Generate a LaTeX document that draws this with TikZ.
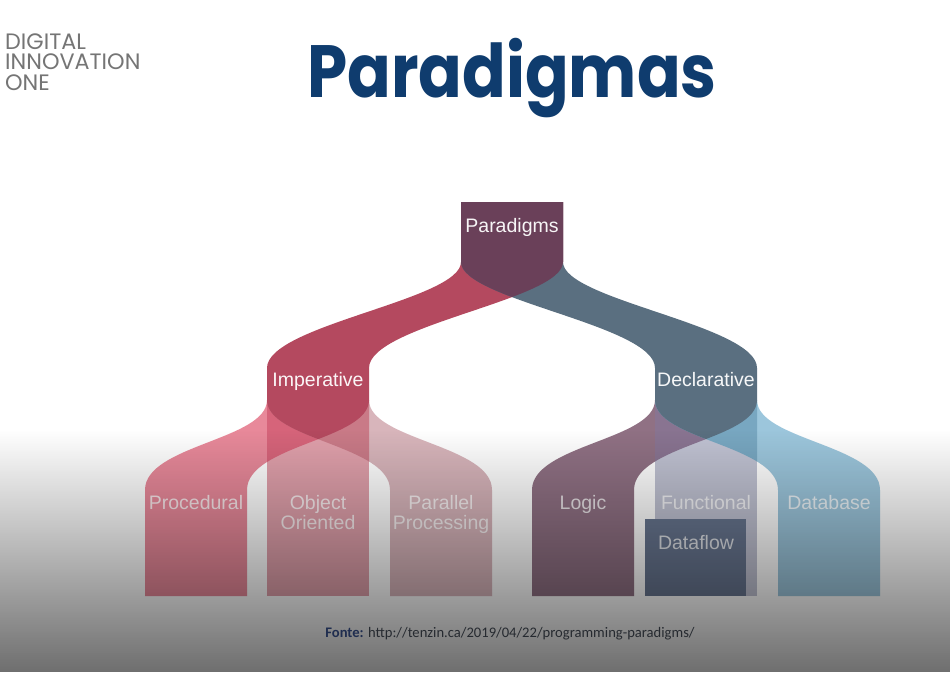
\documentclass[tikz,border=0pt]{standalone}
\usepackage{fontspec}
\setmainfont{Liberation Sans}
\newfontfamily\titlefont{Poppins}
\newfontfamily\logofont{Poppins}
\newfontfamily\notefont{Carlito}
\usetikzlibrary{fadings}

% palette
\definecolor{cTitle}{HTML}{0F3C6E}
\definecolor{cLogo}{HTML}{757575}
\definecolor{cRed}{HTML}{B4495F}
\definecolor{cBlue}{HTML}{5A6F80}
\definecolor{cMix}{HTML}{6A4059}
\definecolor{cProc}{HTML}{E8899A}
\definecolor{cOO}{HTML}{E0A0AB}
\definecolor{cPar}{HTML}{D8B5BB}
\definecolor{cProcOO}{HTML}{D6647A}
\definecolor{cOOPar}{HTML}{C97A87}
\definecolor{cLogic}{HTML}{907184}
\definecolor{cFunc}{HTML}{C0C2D2}
\definecolor{cData}{HTML}{9CC6DC}
\definecolor{cLogicFunc}{HTML}{897491}
\definecolor{cFuncData}{HTML}{78A7C1}
\definecolor{cFlow}{HTML}{687690}
\definecolor{cNoteKey}{HTML}{1F2D4F}
\definecolor{cNote}{HTML}{262A30}

% darkening towards the lower edge of the slide
\tikzfading[name=lowshade, top color=transparent!100, middle color=transparent!57, bottom color=transparent!0]

\tikzset{
  % top level: two ribbons leaving the root box
  ribRed/.style={insert path={(461,202) -- (461,262) .. controls (461,300) and (267,325) .. (267,368) -- (267,400) -- (369,400) -- (369,368) .. controls (369,325) and (563,300) .. (563,262) -- (563,202) -- cycle}},
  ribBlue/.style={insert path={(461,202) -- (461,262) .. controls (461,300) and (655,325) .. (655,368) -- (655,400) -- (757,400) -- (757,368) .. controls (757,325) and (563,300) .. (563,262) -- (563,202) -- cycle}},
  % second level: a ribbon from column #1 to column #2, and a straight stem
  branch/.style 2 args={insert path={(#1,400) .. controls (#1,440) and (#2,445) .. (#2,490) -- (#2,596) -- ({#2+102},596) -- ({#2+102},490) .. controls ({#2+102},445) and ({#1+102},440) .. ({#1+102},400) -- cycle}},
  stem/.style={insert path={(#1,400) rectangle ({#1+102},596)}},
  lbl/.style={text=white, text opacity=0.8, font=\fontsize{19.5}{20}\selectfont, align=center, inner sep=0pt, anchor=base},
  toplbl/.style={lbl, text opacity=0.95},
  logo/.style={anchor=base west, inner sep=0pt, text=cLogo, font=\logofont\fontsize{22.3}{24}\selectfont},
}

\begin{document}
\begin{tikzpicture}[x=1pt,y=-1pt]
\useasboundingbox (0,0) rectangle (950,672);
\fill[white] (0,0) rectangle (950,672);

% ---- top level
\fill[fill=cRed, ribRed];
\fill[fill=cBlue, ribBlue];
\begin{scope}
  \clip[ribRed];
  \fill[fill=cMix, ribBlue];
\end{scope}

% ---- imperative children
\fill[fill=cProc, branch={267}{145}];
\fill[fill=cPar, branch={267}{390}];
\fill[fill=cOO, stem=267];
\begin{scope}\clip[stem=267]; \fill[fill=cProcOO, branch={267}{145}];\end{scope}
\begin{scope}\clip[stem=267]; \fill[fill=cOOPar, branch={267}{390}];\end{scope}
\begin{scope}\clip[branch={267}{145}]; \fill[fill=cRed, branch={267}{390}];\end{scope}

% ---- declarative children
\fill[fill=cLogic, branch={655}{532}];
\fill[fill=cData, branch={655}{778}];
\fill[fill=cFunc, stem=655];
\begin{scope}\clip[stem=655]; \fill[fill=cLogicFunc, branch={655}{532}];\end{scope}
\begin{scope}\clip[stem=655]; \fill[fill=cFuncData, branch={655}{778}];\end{scope}
\begin{scope}\clip[branch={655}{532}]; \fill[fill=cBlue, branch={655}{778}];\end{scope}

\node[fill=cFlow, anchor=north west, minimum width=101pt, minimum height=77pt, inner sep=0pt] (dataflowbox) at (645,519) {};

% ---- labels
\node[toplbl] (paradigms) at (512,232.5) {Paradigms};
\node[toplbl] (imperative) at (318,386.5) {Imperative};
\node[toplbl] (declarative) at (706,386.5) {Declarative};
\node[lbl] (procedural) at (196,509) {Procedural};
\node[lbl] (objoriented) at (318,529) {Object\\Oriented};
\node[lbl] (parallel) at (441,529) {Parallel\\Processing};
\node[lbl] (logic) at (583,509) {Logic};
\node[lbl] (functional) at (706,509) {Functional};
\node[lbl] (database) at (829,509) {Database};
\node[lbl] (dataflow) at (696,549) {Dataflow};

% ---- slide shading
\fill[black, fill opacity=0.57, path fading=lowshade] (0,430) rectangle (950,672);

% ---- heading, logo, source
\node[anchor=base, inner sep=0pt, text=cTitle, font=\titlefont\bfseries\fontsize{74}{80}\selectfont] (title) at (512,97) {\scalebox{0.87}[1]{Paradigmas}};
\node[logo] (logo1) at (5,49) {DIGITAL};
\node[logo] (logo2) at (5,69.5) {INNOVATION};
\node[logo] (logo3) at (5,90) {ONE};
\node[anchor=base, inner sep=0pt, text=cNote, font=\notefont\fontsize{14.6}{16}\selectfont] (source) at (510,637) {\textcolor{cNoteKey}{\bfseries Fonte:} http://tenzin.ca/2019/04/22/programming-paradigms/};
\end{tikzpicture}
\end{document}
